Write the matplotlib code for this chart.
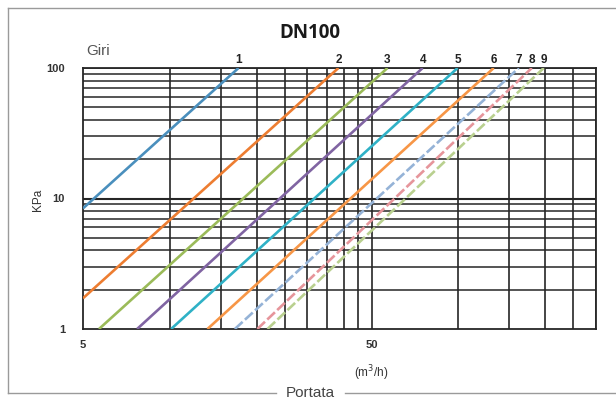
import matplotlib
matplotlib.use("Agg")
import matplotlib.pyplot as plt
from matplotlib.lines import Line2D

# Valve curves (DN100): each opening (turns) drawn from a start point to an end point
turns = ["1", "2", "3", "4", "5", "6", "7", "8", "9"]
flow_start = [5.0, 5.0, 5.68, 7.7, 10.1, 13.5, 16.8, 20.1, 21.8]      # m3/h
kpa_start = [8.4, 1.72, 1.0, 1.0, 1.0, 1.0, 1.0, 1.0, 1.0]            # kPa
flow_end = [17.3, 38.4, 56.8, 75.2, 99.4, 132.6, 161.9, 179.7, 197.7]  # m3/h
kpa_end = [100.0] * 9                                                  # kPa

colors = ["#4a8fbd", "#ed7d31", "#9bbb59", "#8064a2", "#2fb1c6",
          "#f79646", "#95b3d7", "#e6959b", "#b9d08f"]
styles = ["-", "-", "-", "-", "-", "-", (0, (4, 1.2)), (0, (4, 1.2)), (0, (4, 1.2))]

# Grid lines of the log-log chart
x_grid = [10, 15, 20, 25, 30, 35, 40, 45, 50, 100, 150, 200, 250, 300]
y_grid = [2, 3, 4, 5, 6, 7, 8, 9, 10, 20, 30, 40, 50, 60, 70, 80, 90, 100]
x_ticks = [5, 50]
y_ticks = [1, 10, 100]

fig = plt.figure(figsize=(6.16, 4.05), dpi=100)
ax = fig.add_axes([83 / 616, 1 - 329 / 405, (596 - 83) / 616, (329 - 68) / 405])
ax.set_xscale("log")
ax.set_yscale("log")
ax.set_xlim(5, 300)
ax.set_ylim(1, 100)

grid_col = "#262626"
for xv in x_grid:
    ax.axvline(xv, color=grid_col, lw=1.2, zorder=1)
for yv in y_grid:
    ax.axhline(yv, color=grid_col, lw=1.5 if yv == 10 else 1.1, zorder=1)

for i, t in enumerate(turns):
    ax.plot([flow_start[i], flow_end[i]], [kpa_start[i], kpa_end[i]],
            color=colors[i], lw=1.9, ls=styles[i], zorder=3,
            solid_capstyle="butt")
    ax.text(flow_end[i], kpa_end[i] * 1.03, t, ha="center", va="bottom",
            fontsize=8.5, color="#222222", family="Liberation Sans",
            fontweight="bold")

for s in ax.spines.values():
    s.set_color(grid_col)
    s.set_linewidth(1.3)

ax.minorticks_off()
ax.set_xticks(x_ticks)
ax.set_xticklabels([str(v) for v in x_ticks])
ax.set_yticks(y_ticks)
ax.set_yticklabels([str(v) for v in y_ticks])
ax.tick_params(length=0, labelsize=8, colors="#333333", pad=6)
for lab in ax.get_xticklabels() + ax.get_yticklabels():
    lab.set_fontweight("bold")
    lab.set_family("Liberation Sans")
ax.tick_params(axis="x", pad=8)
ax.tick_params(axis="y", pad=13)

fig.text(0.503, 1 - 33 / 405, "DN100", ha="center", va="center",
         fontsize=13.5, fontweight="bold", family="Open Sans", color="#1a1a1a")
fig.text(86 / 616, 1 - 51 / 405, "Giri", ha="left", va="center",
         fontsize=11, color="#555555", family="Liberation Sans",
         bbox=dict(facecolor="white", edgecolor="none", pad=1.5, alpha=0.85))
fig.text(38 / 616, 1 - 200 / 405, "KPa", ha="center", va="center",
         rotation=90, fontsize=8.5, color="#333333", family="Liberation Sans")
fig.text(371 / 616, 1 - 373 / 405, "(m$^3$/h)", ha="center", va="center",
         fontsize=8.5, color="#333333", family="Liberation Sans")

# Outer frame with a gap for the bottom caption
frame_col = "#9a9a9a"
fy_top = 1 - 8 / 405
fy_bot = 1 - 393 / 405
fig.add_artist(Line2D([8 / 616, 1.0], [fy_top, fy_top], color=frame_col, lw=1.0))
fig.add_artist(Line2D([8 / 616, 8 / 616], [fy_top, fy_bot], color=frame_col, lw=1.0))
fig.add_artist(Line2D([8 / 616, 276 / 616], [fy_bot, fy_bot], color=frame_col, lw=1.0))
fig.add_artist(Line2D([345 / 616, 1.0], [fy_bot, fy_bot], color=frame_col, lw=1.0))
fig.text(310.5 / 616, fy_bot, "Portata", ha="center", va="center",
         fontsize=11, color="#444444", family="Liberation Sans")

fig.savefig("out.png", dpi=100)
